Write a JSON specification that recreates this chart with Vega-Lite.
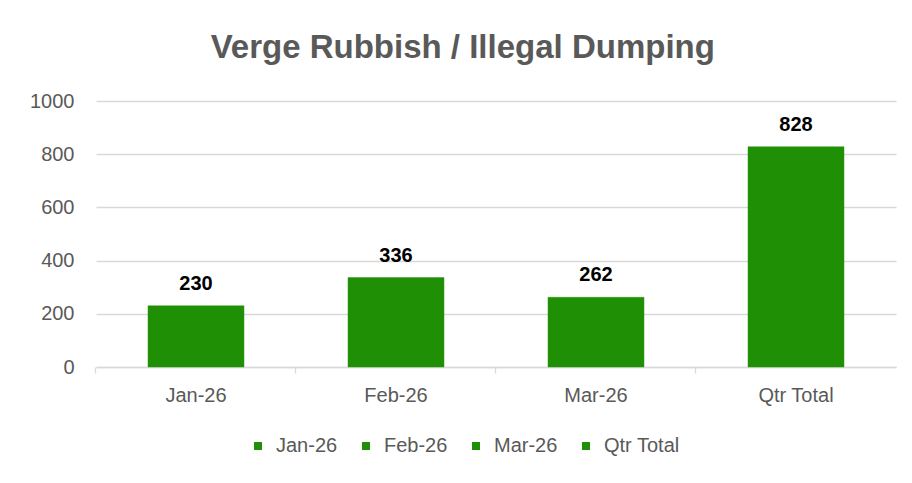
{
  "$schema": "https://vega.github.io/schema/vega-lite/v6.json",
  "autosize": "none",
  "width": 800,
  "height": 266,
  "padding": {"left": 96, "top": 101, "right": 16, "bottom": 116},
  "background": "white",
  "title": {
    "text": "Verge Rubbish / Illegal Dumping",
    "font": "Liberation Sans",
    "fontSize": 33,
    "fontWeight": "bold",
    "color": "#595959",
    "anchor": "middle",
    "frame": "bounds",
    "offset": 26
  },
  "data": {
    "values": [
      {"period": "Jan-26", "count": 230},
      {"period": "Feb-26", "count": 336},
      {"period": "Mar-26", "count": 262},
      {"period": "Qtr Total", "count": 828}
    ]
  },
  "config": {
    "view": {"stroke": null},
    "font": "Liberation Sans"
  },
  "encoding": {
    "x": {
      "field": "period",
      "type": "nominal",
      "sort": null,
      "scale": {"paddingInner": 0.52, "paddingOuter": 0.26}
    },
    "y": {
      "field": "count",
      "type": "quantitative",
      "scale": {"domain": [0, 1000]},
      "axis": {
        "title": null,
        "values": [0, 200, 400, 600, 800, 1000],
        "format": "d",
        "domain": false,
        "ticks": false,
        "labelPadding": 22,
        "labelFontSize": 20,
        "labelColor": "#595959",
        "labelFont": "Liberation Sans",
        "gridColor": "#d9d9d9",
        "gridWidth": 1.3
      }
    }
  },
  "layer": [
    {
      "mark": {"type": "bar", "color": "#1F8F05", "stroke": "#2f9a15", "strokeWidth": 0.5},
      "encoding": {
        "x": {
          "field": "period",
          "type": "nominal",
          "sort": null,
          "axis": {
            "orient": "bottom",
            "title": null,
            "labels": false,
            "bandPosition": -0.5417,
            "domainColor": "#d9d9d9",
            "domainWidth": 1.3,
            "tickColor": "#d9d9d9",
            "tickWidth": 1.3,
            "tickSize": 6,
            "grid": false
          }
        },
        "color": {
          "field": "period",
          "type": "nominal",
          "sort": null,
          "scale": {"range": ["#1F8F05", "#1F8F05", "#1F8F05", "#1F8F05"]},
          "legend": {
            "title": null,
            "orient": "none",
            "legendX": 152,
            "legendY": 335,
            "direction": "horizontal",
            "symbolType": "square",
            "symbolSize": 64,
            "symbolStrokeWidth": 0,
            "labelFontSize": 20,
            "labelColor": "#595959",
            "labelFont": "Liberation Sans",
            "labelOffset": 8,
            "columnPadding": 18
          }
        }
      }
    },
    {
      "mark": {
        "type": "text",
        "baseline": "bottom",
        "dy": -12,
        "fontSize": 20,
        "fontWeight": "bold",
        "color": "#000000",
        "font": "Liberation Sans"
      },
      "encoding": {
        "x": {
          "field": "period",
          "type": "nominal",
          "sort": null,
          "axis": {
            "orient": "bottom",
            "title": null,
            "domain": false,
            "ticks": false,
            "grid": false,
            "labelAngle": 0,
            "labelPadding": 18,
            "labelFontSize": 20,
            "labelColor": "#595959",
            "labelFont": "Liberation Sans"
          }
        },
        "text": {"field": "count", "type": "quantitative"}
      }
    }
  ],
  "resolve": {"axis": {"x": "independent"}}
}
